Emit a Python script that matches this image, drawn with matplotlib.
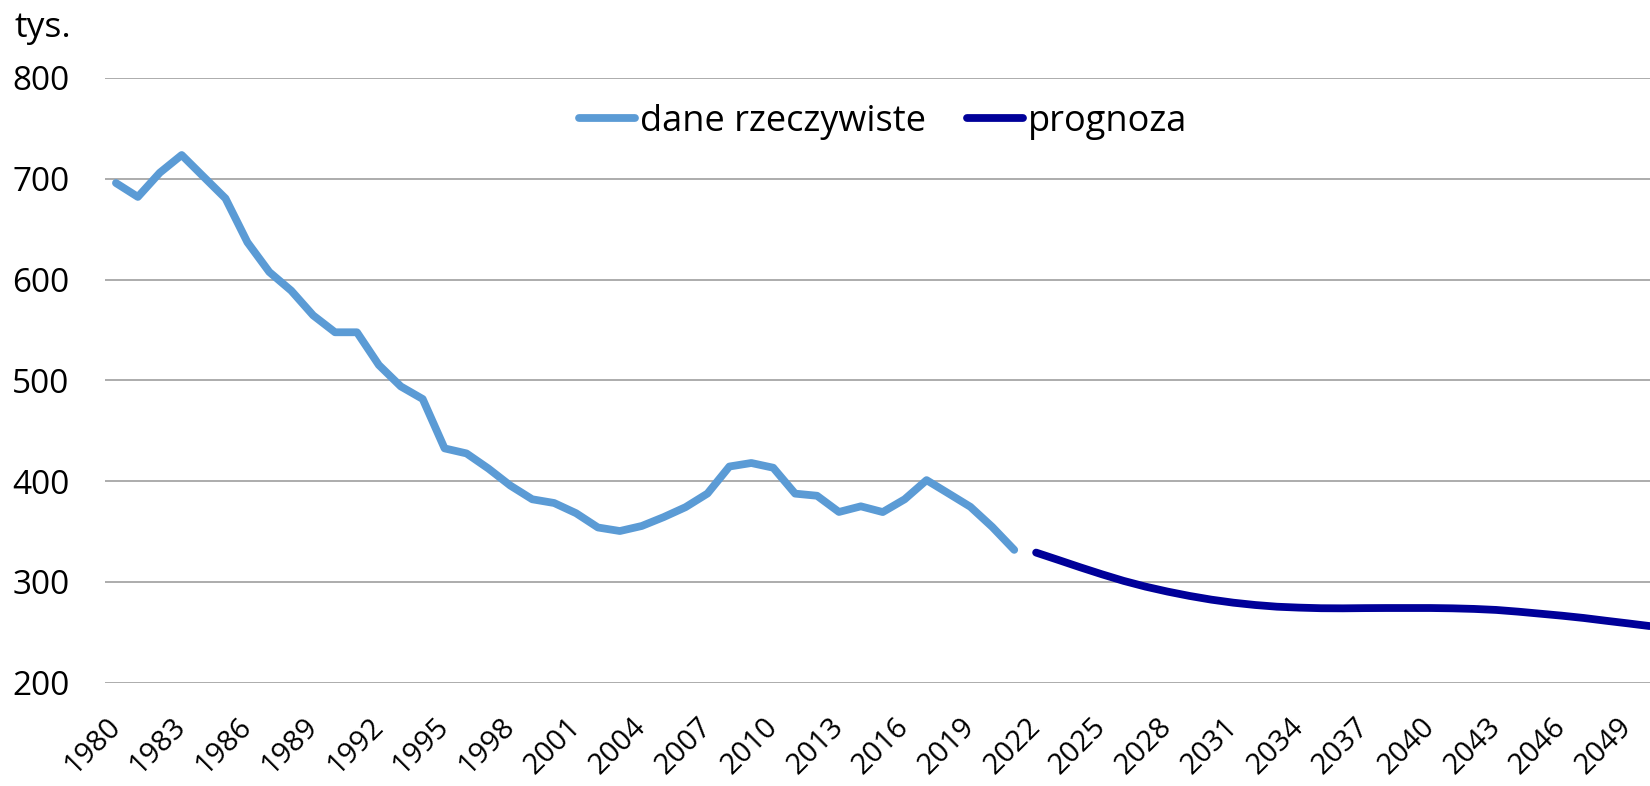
import numpy as np
import matplotlib
matplotlib.use("Agg")
import matplotlib.pyplot as plt

plt.rcParams['font.family'] = ['Open Sans', 'DejaVu Sans']

# urodzenia w Polsce, tys.
years_actual = list(range(1980, 2022))
births_actual = [695.8, 682.0, 706.0, 723.6, 702.0, 680.5, 637.0, 607.5, 589.0, 564.5,
                 547.7, 547.7, 515.2, 494.0, 481.5, 432.5, 427.5, 412.5, 395.6, 382.0,
                 378.3, 368.2, 354.0, 350.5, 355.5, 364.3, 374.2, 387.7, 414.5, 418.0,
                 413.3, 387.6, 385.5, 369.4, 375.0, 369.3, 382.0, 401.0, 387.8, 374.5,
                 354.5, 331.8]

years_forecast = list(range(2022, 2051))
births_forecast = [329.1, 321.9, 314.6, 307.6, 301.0, 295.3, 290.4, 286.1, 282.4, 279.4,
                   277.1, 275.4, 274.5, 273.9, 273.8, 274.0, 274.1, 274.1, 274.1, 273.8,
                   273.2, 272.2, 270.5, 268.5, 266.5, 264.2, 261.5, 258.9, 256.2]

tick_years = list(range(1980, 2051, 3))
y_ticks = [200, 300, 400, 500, 600, 700, 800]

fig = plt.figure(figsize=(16.5, 7.86), dpi=100)
ax = fig.add_axes([105/1650, 1-682.7/786, 1-105/1650, (682.7-78)/786])

ax.plot(years_actual, births_actual, color='#5B9BD5', lw=5.6,
        solid_capstyle='round', solid_joinstyle='round', label='dane rzeczywiste')
ax.plot(years_forecast, births_forecast, color='#000099', lw=5.6,
        solid_capstyle='round', solid_joinstyle='round', label='prognoza')

ax.set_xlim(1979.5, 2050.02)
ax.set_ylim(200, 800)
ax.set_yticks(y_ticks)
ax.set_xticks(tick_years)
ax.set_xticklabels([str(y) for y in tick_years], rotation=45, ha='right',
                   va='center', rotation_mode='anchor', fontsize=21)
ax.tick_params(axis='both', length=0)
ax.tick_params(axis='y', pad=25.5, labelsize=24)
ax.tick_params(axis='x', pad=28.5)
ax.grid(axis='y', color='#a6a6a6', lw=1.3)
ax.set_axisbelow(True)
for s in ax.spines.values():
    s.set_visible(False)

fig.text(14/1650, 1-28/786, 'tys.', fontsize=25.5, va='center', ha='left')

ax.legend(loc='center', bbox_to_anchor=(883/1650, 1-122/786),
          bbox_transform=fig.transFigure, ncol=2, frameon=False, fontsize=26,
          handlelength=1.55, handletextpad=0.12, columnspacing=1.15)

fig.savefig('out.png', dpi=100)
